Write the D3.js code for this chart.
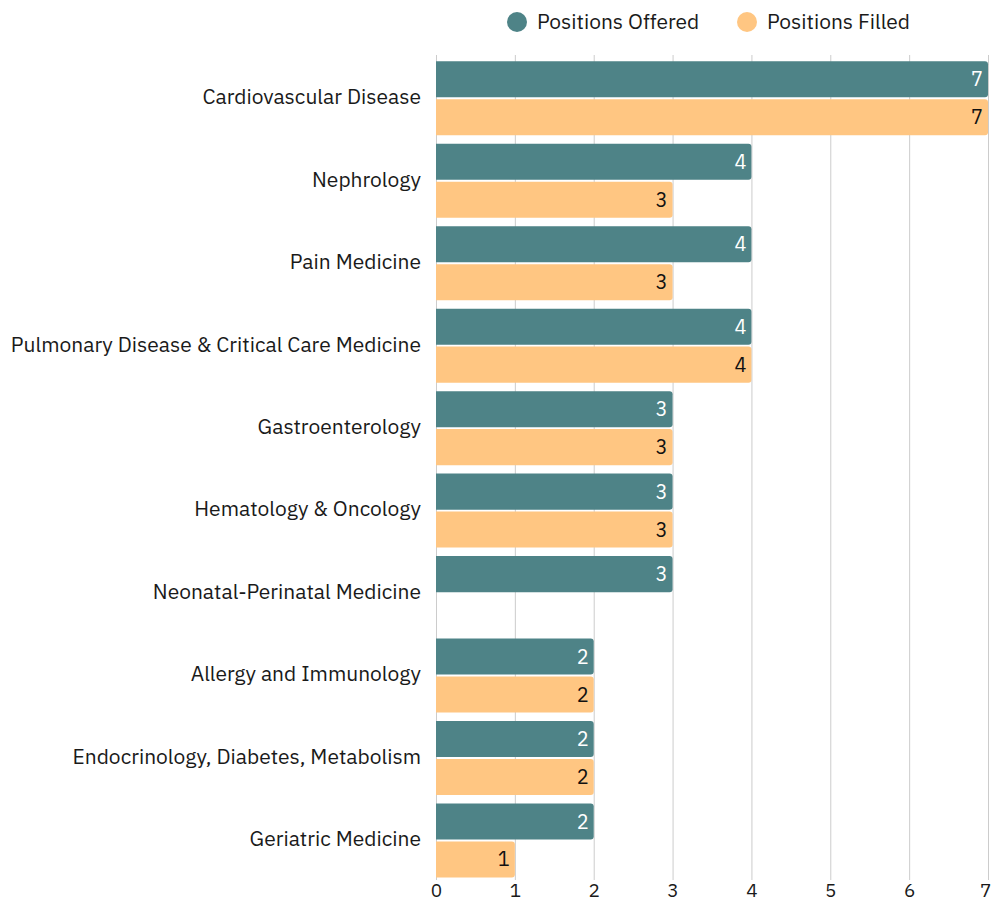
<!DOCTYPE html>
<html>
<head>
<meta charset="utf-8">
<script src="https://cdn.jsdelivr.net/npm/d3@7"></script>
<style>
  body { margin: 0; background: #fff; }
  svg { display: block; font-family: "IBM Plex Sans", "Noto Sans", sans-serif; }
</style>
</head>
<body>
<div id="chart"></div>
<script>
// chart data
const categories = [
  "Cardiovascular Disease",
  "Nephrology",
  "Pain Medicine",
  "Pulmonary Disease & Critical Care Medicine",
  "Gastroenterology",
  "Hematology & Oncology",
  "Neonatal-Perinatal Medicine",
  "Allergy and Immunology",
  "Endocrinology, Diabetes, Metabolism",
  "Geriatric Medicine"
];
const seriesNames = ["Positions Offered", "Positions Filled"];
const offered = [7, 4, 4, 4, 3, 3, 3, 2, 2, 2];
const filled = [7, 3, 3, 4, 3, 3, null, 2, 2, 1];
const xTicks = [0, 1, 2, 3, 4, 5, 6, 7];

const colors = { "Positions Offered": "#4e8387", "Positions Filled": "#ffc682" };
const labelColors = { "Positions Offered": "#fff", "Positions Filled": "#111" };

const width = 991, height = 903;
const margin = { top: 57, right: 3, bottom: 21, left: 436 };

const rows = categories.map((c, i) => ({
  name: c,
  values: [
    { key: seriesNames[0], value: offered[i] },
    { key: seriesNames[1], value: filled[i] }
  ]
}));

const svg = d3.select('#chart')
  .append('svg')
  .attr('width', width)
  .attr('height', height);

const x = d3.scaleLinear()
  .domain([0, 7])
  .range([margin.left, width - margin.right]);

const y0 = d3.scaleBand()
  .domain(categories)
  .range([margin.top, height - margin.bottom - 0.25])
  .paddingInner(0.103)
  .paddingOuter(0.0515);

const y1 = d3.scaleBand()
  .domain(seriesNames)
  .range([0, y0.bandwidth()])
  .paddingInner(0.05);

// gridlines
svg.append('g')
  .selectAll('line')
  .data(xTicks)
  .join('line')
    .attr('x1', d => x(d) + 0.5)
    .attr('x2', d => x(d) + 0.5)
    .attr('y1', 55)
    .attr('y2', 880)
    .attr('stroke', '#cccccc')
    .attr('stroke-width', 1);

// bars with small rounded right end
function barPath(x0, x1, yTop, h, r) {
  const w = x1 - x0;
  r = Math.min(r, w);
  return `M${x0},${yTop}H${x1 - r}Q${x1},${yTop} ${x1},${yTop + r}` +
    `V${yTop + h - r}Q${x1},${yTop + h} ${x1 - r},${yTop + h}H${x0}Z`;
}

const groups = svg.append('g')
  .selectAll('g')
  .data(rows)
  .join('g')
    .attr('transform', d => `translate(0,${y0(d.name)})`);

groups.selectAll('path')
  .data(d => d.values.filter(v => v.value != null && v.value > 0))
  .join('path')
    .attr('d', d => barPath(x(0), x(d.value), y1(d.key), y1.bandwidth(), 3))
    .attr('fill', d => colors[d.key]);

groups.selectAll('text.val')
  .data(d => d.values.filter(v => v.value != null && v.value > 0))
  .join('text')
    .attr('class', 'val')
    .attr('x', d => x(d.value) - 5)
    .attr('y', d => y1(d.key) + y1.bandwidth() / 2)
    .attr('dy', '0.35em')
    .attr('text-anchor', 'end')
    .attr('font-size', '20px')
    .attr('fill', d => labelColors[d.key])
    .text(d => d.value);

// category labels
svg.append('g')
  .selectAll('text')
  .data(categories)
  .join('text')
    .attr('x', 421)
    .attr('y', d => y0(d) + y0.bandwidth() / 2 - 1.5)
    .attr('dy', '0.35em')
    .attr('text-anchor', 'end')
    .attr('font-size', '21px')
    .attr('fill', '#1a1a1a')
    .text(d => d);

// x axis
const xAxis = svg.append('g')
  .attr('transform', `translate(0,${880})`)
  .call(d3.axisBottom(x).tickValues(xTicks).tickSize(0).tickPadding(3).tickFormat(d3.format('d')));
xAxis.select('.domain').remove();
xAxis.selectAll('text')
  .attr('font-size', '19px')
  .attr('font-family', '"IBM Plex Sans", "Noto Sans", sans-serif')
  .attr('fill', '#1a1a1a');
// keep the last tick label inside the page
xAxis.selectAll('.tick')
  .filter(d => d === xTicks[xTicks.length - 1])
  .select('text')
  .attr('text-anchor', 'end')
  .attr('dx', '3');

// legend
const legend = svg.append('g')
  .selectAll('g')
  .data(seriesNames)
  .join('g')
    .attr('transform', (d, i) => `translate(${[517, 747][i]},22)`);
legend.append('circle')
  .attr('r', 10)
  .attr('fill', d => colors[d]);
legend.append('text')
  .attr('x', 20)
  .attr('dy', '0.35em')
  .attr('font-size', '21px')
  .attr('fill', '#1a1a1a')
  .text(d => d);
</script>
</body>
</html>
